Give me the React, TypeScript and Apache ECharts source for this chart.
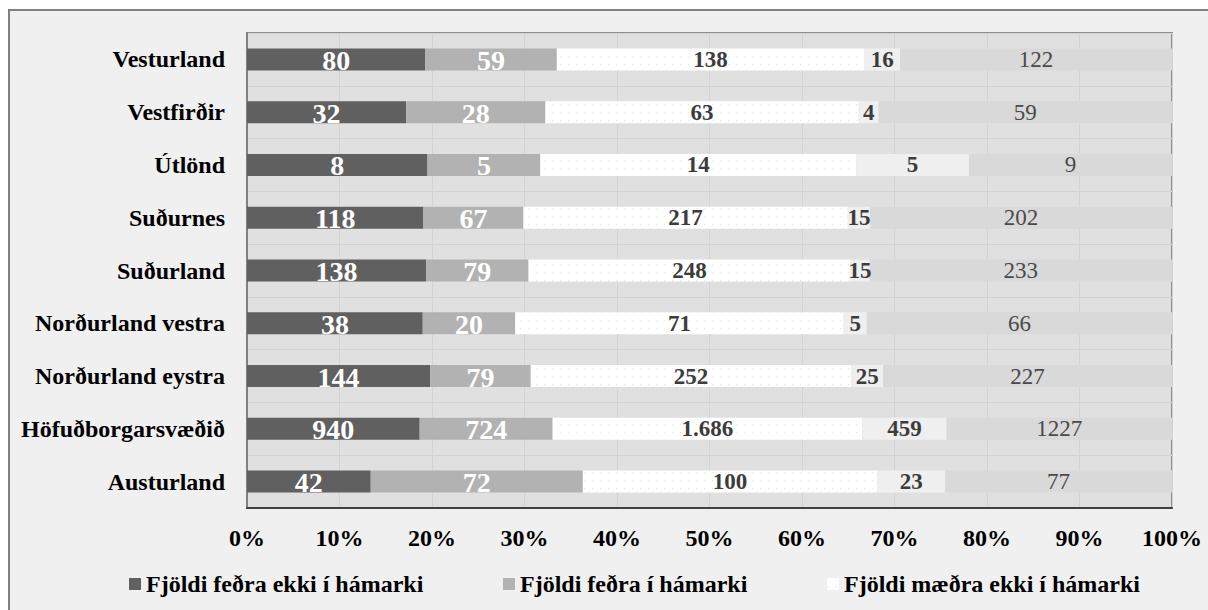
import React, { useEffect, useRef } from "react";
import * as echarts from "echarts";

const categories = [
  "Austurland",
  "Höfuðborgarsvæðið",
  "Norðurland eystra",
  "Norðurland vestra",
  "Suðurland",
  "Suðurnes",
  "Útlönd",
  "Vestfirðir",
  "Vesturland",
];

const seriesNames = [
  "Fjöldi feðra ekki í hámarki",
  "Fjöldi feðra í hámarki",
  "Fjöldi mæðra ekki í hámarki",
  "Fjöldi mæðra í hámarki",
  "Annað",
];

const fedraEkki = [42, 940, 144, 38, 138, 118, 8, 32, 80];
const fedraI = [72, 724, 79, 20, 79, 67, 5, 28, 59];
const maedraEkki = [100, 1686, 252, 71, 248, 217, 14, 63, 138];
const maedraI = [23, 459, 25, 5, 15, 15, 5, 4, 16];
const annad = [77, 1227, 227, 66, 233, 202, 9, 59, 122];

const xTicks = [0, 10, 20, 30, 40, 50, 60, 70, 80, 90, 100];

const FONT = '"Liberation Serif", "Times New Roman", Times, serif';

const thousands = (n: number) => String(n).replace(/\B(?=(\d{3})+(?!\d))/g, ".");
const plain = (n: number) => String(n);

export default function App() {
  const ref = useRef<HTMLDivElement>(null);

  useEffect(() => {
    if (!ref.current) return;
    const chart = echarts.init(ref.current, undefined, { renderer: "svg" });

    const all = [fedraEkki, fedraI, maedraEkki, maedraI, annad];
    const totals = categories.map((_, i) => all.reduce((s, arr) => s + arr[i], 0));

    const decalDots = (c: string) => ({
      symbol: "rect",
      symbolSize: 1,
      dashArrayX: [1, 7],
      dashArrayY: [1, 7],
      color: c,
    });

    const defs: any[] = [
      {
        values: fedraEkki,
        color: "#606060",
        label: { color: "#ffffff", fontSize: 28, fontWeight: "bold" },
        fmt: plain,
      },
      {
        values: fedraI,
        color: "#b2b2b2",
        label: { color: "#ffffff", fontSize: 28, fontWeight: "bold" },
        fmt: plain,
      },
      {
        values: maedraEkki,
        color: "#ffffff",
        decal: decalDots("#e4e4e4"),
        label: { color: "#3c3c3c", fontSize: 23, fontWeight: "bold" },
        fmt: thousands,
      },
      {
        values: maedraI,
        color: "#efefef",
        label: { color: "#3c3c3c", fontSize: 23, fontWeight: "bold" },
        fmt: plain,
      },
      {
        values: annad,
        color: "#d9d9d9",
        label: { color: "#4a4a4a", fontSize: 23, fontWeight: "normal" },
        fmt: plain,
      },
    ];

    const series = defs.map((d, si) => ({
      name: seriesNames[si],
      type: "bar",
      stack: "total",
      barWidth: 22,
      data: d.values.map((v: number, i: number) => (v / totals[i]) * 100),
      itemStyle: d.decal ? { color: d.color, decal: d.decal } : { color: d.color },
      label: {
        show: true,
        position: "inside",
        fontFamily: FONT,
        ...d.label,
        offset: si < 2 ? [0, 1] : [0, 0],
        formatter: (p: any) => d.fmt(d.values[p.dataIndex]),
      },
      emphasis: { disabled: true },
    }));

    const legendBase = {
      icon: "rect",
      itemWidth: 12,
      itemHeight: 12,
      top: 567,
      textStyle: { fontFamily: FONT, fontSize: 24, fontWeight: "bold", color: "#000" },
      selectedMode: false,
    };

    chart.setOption({
      animation: false,
      backgroundColor: "#ffffff",
      graphic: [
        {
          type: "rect",
          z: -10,
          silent: true,
          shape: { x: 9, y: 10, width: 1300, height: 700 },
          style: { fill: "#f0f0f0", stroke: "#808080", lineWidth: 2 },
        },
      ],
      legend: [
        { ...legendBase, left: 124, data: [seriesNames[0]] },
        { ...legendBase, left: 498, data: [seriesNames[1]] },
        { ...legendBase, left: 822, data: [seriesNames[2]] },
      ],
      grid: {
        left: 247,
        right: 36,
        top: 33,
        bottom: 102,
        show: true,
        backgroundColor: "#e0e0e0",
        borderColor: "#8f8f8f",
        borderWidth: 2,
      },
      xAxis: {
        type: "value",
        min: xTicks[0],
        max: xTicks[xTicks.length - 1],
        interval: xTicks[1] - xTicks[0],
        axisLine: { show: true, lineStyle: { color: "#404040", width: 2 } },
        axisTick: { show: false },
        splitLine: { show: true, lineStyle: { color: "#d3d3d3", width: 1 } },
        axisLabel: {
          margin: 18,
          formatter: "{value}%",
          fontFamily: FONT,
          fontSize: 24,
          fontWeight: "bold",
          color: "#000",
        },
      },
      yAxis: {
        type: "category",
        data: categories,
        axisLine: { show: true, lineStyle: { color: "#808080", width: 2 } },
        axisTick: { show: false },
        splitLine: { show: true, lineStyle: { color: "#d3d3d3", width: 1 } },
        axisLabel: {
          margin: 22,
          fontFamily: FONT,
          fontSize: 24,
          fontWeight: "bold",
          color: "#000",
        },
      },
      series,
    });

    return () => chart.dispose();
  }, []);

  return (
    <div
      ref={ref}
      style={{ position: "absolute", left: 0, top: 0, width: 1208, height: 610 }}
    />
  );
}
